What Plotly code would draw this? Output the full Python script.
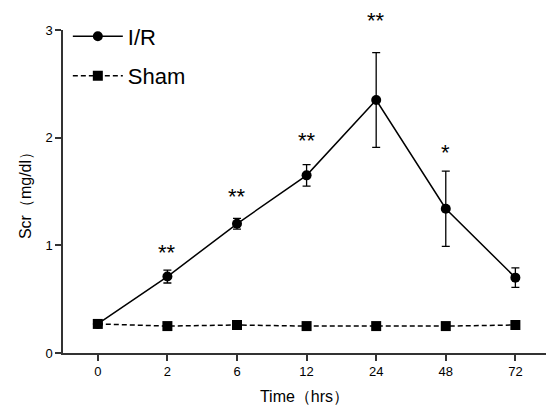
import plotly.graph_objects as go

time_labels = ["0", "2", "6", "12", "24", "48", "72"]
ir_mean = [0.27, 0.71, 1.20, 1.65, 2.35, 1.34, 0.70]
ir_err = [0.0, 0.06, 0.05, 0.10, 0.44, 0.35, 0.09]
sham_mean = [0.27, 0.25, 0.26, 0.25, 0.25, 0.25, 0.26]
sham_err = [0.01, 0.01, 0.01, 0.01, 0.01, 0.01, 0.01]
sig_labels = ["", "**", "**", "**", "**", "*", ""]
sig_y = [0, 0.96, 1.48, 2.0, 3.12, 1.89, 0]

xpos = list(range(len(time_labels)))
FONT = "Liberation Sans, Arial, sans-serif"
YMAX = 3

fig = go.Figure()
fig.add_trace(go.Scatter(
    x=xpos, y=ir_mean, name="I/R", mode="lines+markers",
    line=dict(color="black", width=1.5),
    marker=dict(symbol="circle", size=10, color="black"),
    error_y=dict(type="data", array=ir_err, color="black", thickness=1.3, width=4),
    legendgroup="a",
))
fig.add_trace(go.Scatter(
    x=xpos, y=sham_mean, name="Sham", mode="lines+markers",
    line=dict(color="black", width=1.5, dash="5px,3px"),
    marker=dict(symbol="square", size=10, color="black"),
    error_y=dict(type="data", array=sham_err, color="black", thickness=1, width=3),
    legendgroup="b",
))

for x, lab, y in zip(xpos, sig_labels, sig_y):
    if lab:
        fig.add_annotation(x=x, y=y / YMAX, yref="paper", text=lab, showarrow=False,
                           yanchor="middle", yshift=-3,
                           font=dict(family=FONT, size=22, color="black"))

fig.update_layout(
    width=546, height=408,
    margin=dict(l=63, r=0, t=30, b=55),
    paper_bgcolor="white", plot_bgcolor="white",
    font=dict(family=FONT, size=13, color="black"),
    showlegend=True,
    legend=dict(x=0.01, y=1.045, xanchor="left", yanchor="top",
                font=dict(family=FONT, size=22, color="black"),
                tracegroupgap=8, bgcolor="rgba(0,0,0,0)", itemwidth=50),
    xaxis=dict(range=[-0.5, 6.44], tickmode="array", tickvals=xpos, ticktext=time_labels,
               showline=True, linecolor="#333", linewidth=1.5, ticks="outside",
               ticklen=6, tickwidth=1.5, tickcolor="#333", showgrid=False, zeroline=False,
               tickfont=dict(size=13),
               title=dict(text="Time（hrs）", font=dict(size=16), standoff=12)),
    yaxis=dict(range=[0, YMAX], tickvals=[0, 1, 2, 3], showline=True, linecolor="#333",
               linewidth=1.5, ticks="outside", ticklen=6, tickwidth=1.5, tickcolor="#333",
               showgrid=False, zeroline=False, tickfont=dict(size=13),
               title=dict(text="Scr（mg/dl）", font=dict(size=16), standoff=10)),
)
fig.write_html("out.html")
